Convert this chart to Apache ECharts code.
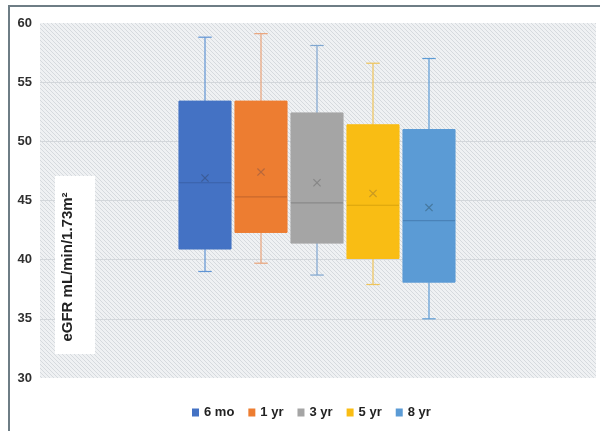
<!DOCTYPE html>
<html>
<head>
<meta charset="utf-8">
<script src="https://cdn.jsdelivr.net/npm/echarts@6/dist/echarts.min.js"></script>
<style>html,body{margin:0;padding:0;background:#fff;}#c{width:600px;height:431px;}</style>
</head>
<body>
<div id="c"></div>
<script>
// ---- data ----
const categories = ['6 mo', '1 yr', '3 yr', '5 yr', '8 yr'];
const mins    = [39.0, 39.7, 38.7, 37.9, 35.0];
const q1s     = [40.9, 42.3, 41.4, 40.1, 38.1];
const medians = [46.5, 45.3, 44.8, 44.6, 43.3];
const q3s     = [53.4, 53.4, 52.4, 51.4, 51.0];
const maxs    = [58.8, 59.1, 58.1, 56.6, 57.0];
const means   = [46.9, 47.4, 46.5, 45.6, 44.4];
const yTicks  = [30, 35, 40, 45, 50, 55, 60];
const yTitle  = 'eGFR mL/min/1.73m²';

// ---- styles ----
const fills    = ['#4472c4', '#ed7d31', '#a5a5a5', '#f9bd14', '#5b9bd5'];
const whiskers = ['#5f94d4', '#e9a37a', '#7fa6d0', '#eec45a', '#5b9bd5'];
const medCols  = ['#3a62a8', '#c9692c', '#8a8a8a', '#d8a40c', '#4a82b8'];
const meanCols = ['#3c5c98', '#b8683c', '#868686', '#c99a22', '#46789f'];

// hatch pattern for plot background
const pc = document.createElement('canvas');
pc.width = 4; pc.height = 4;
const pctx = pc.getContext('2d');
pctx.fillStyle = '#eff1f3';
pctx.fillRect(0, 0, 4, 4);
pctx.fillStyle = '#d6dade';
for (let i = 0; i < 4; i++) pctx.fillRect(i, i, 1, 1);

const chart = echarts.init(document.getElementById('c'), null, {renderer: 'canvas'});

function makeRender(k) {
  return function (params, api) {
    const xi = api.value(0);
    const band = api.size([1, 0])[0];
    const hw = band * 0.93 / 2;
    const cap = band * 0.12;
    const pMin = api.coord([xi, api.value(1)]);
    const pQ1 = api.coord([xi, api.value(2)]);
    const pMed = api.coord([xi, api.value(3)]);
    const pQ3 = api.coord([xi, api.value(4)]);
    const pMax = api.coord([xi, api.value(5)]);
    const pMean = api.coord([xi, api.value(6)]);
    const x = pMed[0];
    const wStyle = {stroke: whiskers[k], lineWidth: 1.2};
    const m = 3.6;
    return {
      type: 'group',
      children: [
        {type: 'line', shape: {x1: x, y1: pMax[1], x2: x, y2: pQ3[1]}, style: wStyle},
        {type: 'line', shape: {x1: x - cap, y1: pMax[1], x2: x + cap, y2: pMax[1]}, style: wStyle},
        {type: 'line', shape: {x1: x, y1: pMin[1], x2: x, y2: pQ1[1]}, style: wStyle},
        {type: 'line', shape: {x1: x - cap, y1: pMin[1], x2: x + cap, y2: pMin[1]}, style: wStyle},
        {type: 'rect', shape: {x: x - hw, y: pQ3[1], width: hw * 2, height: pQ1[1] - pQ3[1]},
          style: {fill: fills[k], stroke: fills[k], lineWidth: 1}},
        {type: 'line', shape: {x1: x - hw, y1: pMed[1], x2: x + hw, y2: pMed[1]},
          style: {stroke: medCols[k], lineWidth: 1.2}},
        {type: 'line', shape: {x1: x - m, y1: pMean[1] - m, x2: x + m, y2: pMean[1] + m},
          style: {stroke: meanCols[k], lineWidth: 1.2}},
        {type: 'line', shape: {x1: x - m, y1: pMean[1] + m, x2: x + m, y2: pMean[1] - m},
          style: {stroke: meanCols[k], lineWidth: 1.2}}
      ]
    };
  };
}

const series = categories.map(function (name, k) {
  return {
    name: name,
    type: 'custom',
    xAxisIndex: 1,
    yAxisIndex: 1,
    itemStyle: {color: fills[k]},
    renderItem: makeRender(k),
    encode: {x: 0, y: [1, 2, 3, 4, 5, 6]},
    data: [[k, mins[k], q1s[k], medians[k], q3s[k], maxs[k], means[k]]]
  };
});

chart.setOption({
  animation: false,
  backgroundColor: '#ffffff',
  grid: [
    {left: 40, right: 4, top: 23, bottom: 53, show: true, borderWidth: 0,
      backgroundColor: {image: pc, repeat: 'repeat'}},
    {left: 177, width: 280, top: 23, bottom: 53}
  ],
  xAxis: [
    {type: 'value', gridIndex: 0, show: false, min: 0, max: 1},
    {type: 'category', gridIndex: 1, data: categories, show: false}
  ],
  yAxis: [
    {type: 'value', gridIndex: 0, min: yTicks[0], max: yTicks[yTicks.length - 1], interval: 5,
      axisLine: {show: false}, axisTick: {show: false},
      axisLabel: {color: '#2f2f2f', fontSize: 13, fontWeight: 'bold', fontFamily: 'Liberation Sans', margin: 8},
      splitLine: {show: true, showMinLine: false, showMaxLine: false, lineStyle: {color: '#d3d7db', width: 1}}},
    {type: 'value', gridIndex: 1, min: yTicks[0], max: yTicks[yTicks.length - 1], show: false,
      splitLine: {show: false}}
  ],
  legend: {
    data: categories,
    left: 187,
    top: 401,
    icon: 'rect',
    itemWidth: 7,
    itemHeight: 8,
    itemGap: 14,
    textStyle: {color: '#222', fontSize: 13, fontWeight: 'bold', fontFamily: 'Liberation Sans'}
  },
  graphic: [
    {type: 'rect', shape: {x: 9, y: 6, width: 700, height: 500}, silent: true,
      style: {fill: null, stroke: '#6e7d85', lineWidth: 2}, z: 100},
    {type: 'rect', shape: {x: 55, y: 176, width: 40, height: 178}, silent: true,
      style: {fill: '#ffffff'}, z: 50},
    {type: 'text', x: 68, y: 267, rotation: Math.PI / 2, silent: true, z: 51,
      style: {text: yTitle, fill: '#222', font: 'bold 15px "Liberation Sans"',
        align: 'center', verticalAlign: 'middle'}}
  ],
  series: series
});
</script>
</body>
</html>
